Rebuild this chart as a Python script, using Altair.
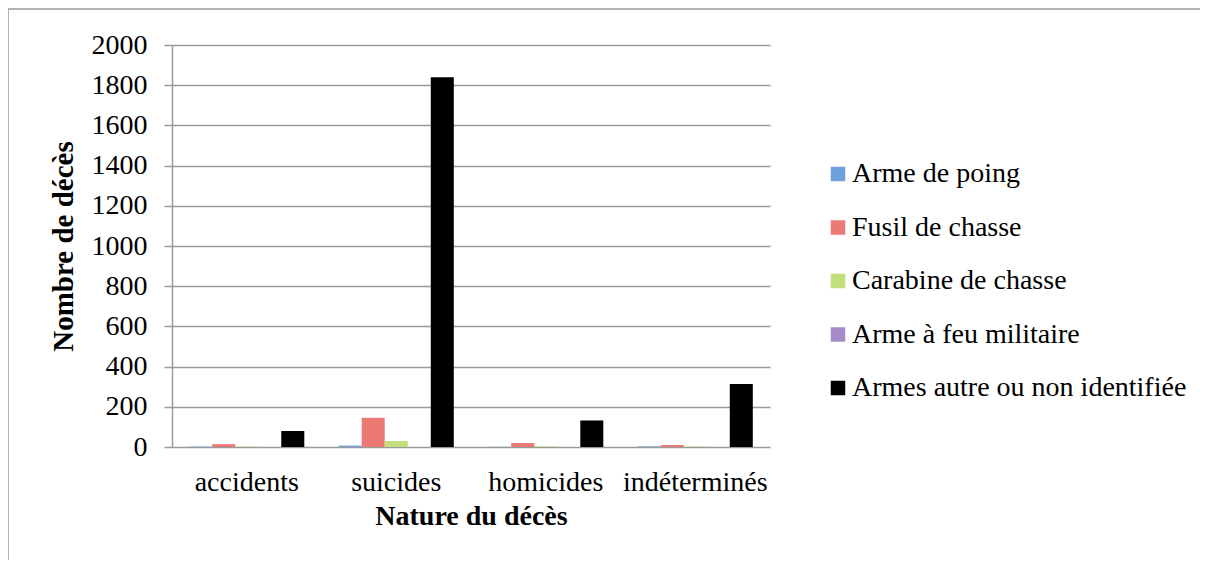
import altair as alt
import pandas as pd

categories = ["accidents", "suicides", "homicides", "indéterminés"]
series = ["Arme de poing", "Fusil de chasse", "Carabine de chasse", "Arme à feu militaire", "Armes autre ou non identifiée"]
values = {
    "Arme de poing": [2, 7, 1, 3],
    "Fusil de chasse": [14, 145, 20, 10],
    "Carabine de chasse": [2, 30, 3, 2],
    "Arme à feu militaire": [0, 0, 0, 0],
    "Armes autre ou non identifiée": [80, 1840, 132, 313],
}
colors = ["#6f9fdc", "#ec7a74", "#c2df7c", "#a58bc9", "#000000"]

rows = []
for s in series:
    for c, v in zip(categories, values[s]):
        rows.append({"cat": c, "serie": s, "val": v})
df = pd.DataFrame(rows)

FONT = "Liberation Serif"
FS = 28

bars = alt.Chart(df).mark_bar(stroke=None).encode(
    x=alt.X("cat:N", sort=categories,
            scale=alt.Scale(paddingInner=0.23, paddingOuter=0.115),
            axis=alt.Axis(title="Nature du décès", labelAngle=0, ticks=False, domain=False,
                          labelFontSize=FS, labelFont=FONT, labelColor="black", labelPadding=21,
                          titleFont=FONT, titleFontSize=FS, titleFontWeight="bold", titleColor="black",
                          titlePadding=6)),
    xOffset=alt.XOffset("serie:N", sort=series, scale=alt.Scale(paddingInner=0, paddingOuter=0)),
    y=alt.Y("val:Q", scale=alt.Scale(domain=[0, 2000], nice=False),
            axis=alt.Axis(title="Nombre de décès", values=list(range(0, 2001, 200)), format="d",
                          grid=True, gridColor="#9a9a9a", gridWidth=1.5,
                          domainColor="#9a9a9a", domainWidth=1.5,
                          tickColor="#9a9a9a", tickWidth=1.5, tickSize=8,
                          labelFontSize=FS, labelFont=FONT, labelColor="black", labelPadding=17,
                          titleFont=FONT, titleFontSize=29, titleFontWeight="bold", titleColor="black",
                          titlePadding=13)),
    color=alt.Color("serie:N", sort=series,
                    scale=alt.Scale(domain=series, range=colors),
                    legend=alt.Legend(title=None, orient="none", legendX=652, legendY=115,
                                      symbolType="square", symbolSize=210, symbolStrokeWidth=0,
                                      labelFont=FONT, labelFontSize=FS, labelColor="black",
                                      labelLimit=0, rowPadding=25.5, labelOffset=0)),
)

frame = alt.Chart(pd.DataFrame({"a": [0]})).mark_rect(fill=None, stroke="#9a9a9a", strokeWidth=1.5).encode(
    x=alt.value(-164), x2=alt.value(1100), y=alt.value(-36), y2=alt.value(600)
)

chart = alt.layer(frame, bars).properties(
    width=598, height=402,
    autosize=alt.AutoSizeParams(type="none"),
    padding={"left": 164, "top": 37, "right": 430, "bottom": 113},
).configure_view(stroke=None)

chart.save("out.html", embed_options={"renderer": "svg", "actions": False})
